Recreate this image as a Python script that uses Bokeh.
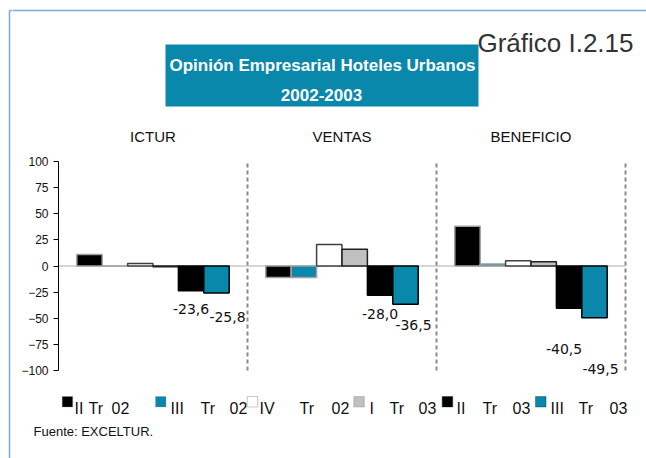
from bokeh.plotting import figure
from bokeh.layouts import row, column
from bokeh.models import Range1d, LabelSet, Label, BoxAnnotation, ColumnDataSource, FixedTicker
from bokeh.core.properties import value
from bokeh.embed import file_html
from bokeh.resources import INLINE

# ---------------- data ----------------
groups = ["ICTUR", "VENTAS", "BENEFICIO"]
series_names = ["II Tr 02", "III Tr 02", "IV Tr 02", "I Tr 03", "II Tr 03", "III Tr 03"]
ii_tr_02 = [11.0, -11.0, 38.0]
iii_tr_02 = [0.0, -11.0, 2.0]
iv_tr_02 = [2.5, 20.5, 5.0]
i_tr_03 = [-0.8, 16.0, 4.0]
ii_tr_03 = [-23.6, -28.0, -40.5]
iii_tr_03 = [-25.8, -36.5, -49.5]
y_ticks = [-100, -75, -50, -25, 0, 25, 50, 75, 100]
chart_title = ["Opinión Empresarial Hoteles Urbanos", "2002-2003"]
figure_id = "Gráfico I.2.15"
source_note = "Fuente: EXCELTUR."

series_values = [ii_tr_02, iii_tr_02, iv_tr_02, i_tr_03, ii_tr_03, iii_tr_03]

# ---------------- styles / layout ----------------
TEAL = "#0a88ab"
BORDER = "#78acd6"
fills = ["#000000", TEAL, "#ffffff", "#c0c0c0", "#000000", TEAL]
outlines = ["#a0a0a0", "#a0a0a0", "#404040", "#202020", "#000000", "#000000"]
FONT = "Liberation Sans"

PAGE_W, PAGE_H = 646, 458
STRIP = 12
CW = PAGE_W - STRIP
HEAD_H, FOOT_H = 150, 34
MAIN_H = PAGE_H - HEAD_H - FOOT_H
FL, FR, FT, FB = 58.0, 625.0, 161.0, 370.0   # bar-area edges in page pixels
PPX = (FR - FL) / 3.0
PPY = (FB - FT) / 200.0


def plain(fig):
    fig.grid.visible = False
    fig.outline_line_color = None
    fig.background_fill_color = "white"
    fig.border_fill_color = "white"
    return fig


def base_fig(**kw):
    return plain(figure(output_backend="svg", toolbar_location=None, frame_align=False, **kw))


# ---------------- left border strip ----------------
strip = base_fig(width=STRIP, height=PAGE_H, x_range=Range1d(0, STRIP), y_range=Range1d(PAGE_H, 0),
                 x_axis_type=None, y_axis_type=None, min_border=0)
strip.segment(x0=[9, 9], y0=[10, 10], x1=[9, STRIP], y1=[PAGE_H, 10], line_color=BORDER, line_width=1.5)

# ---------------- header ----------------
head = base_fig(width=CW, height=HEAD_H, x_range=Range1d(STRIP, PAGE_W), y_range=Range1d(HEAD_H, 0),
                x_axis_type=None, y_axis_type=None, min_border=0)
head.segment(x0=[STRIP], y0=[10], x1=[PAGE_W], y1=[10], line_color=BORDER, line_width=1.5)
head.quad(left=[165], right=[478], top=[44], bottom=[106], fill_color=TEAL, line_color=None)
head.add_layout(Label(x=322, y=65, text=chart_title[0], text_font=FONT,
                      text_font_size="17px", text_font_style="bold", text_color="white",
                      text_align="center", text_baseline="alphabetic"))
head.add_layout(Label(x=321, y=94, text=chart_title[1], text_font=FONT,
                      text_font_size="17px", text_font_style="bold", text_color="white",
                      text_align="center", text_baseline="alphabetic"))
head.add_layout(Label(x=633, y=42, text=figure_id, text_font=FONT,
                      text_font_size="26px", text_color="#333333",
                      text_align="right", text_baseline="alphabetic"))
for g, name in enumerate(groups):
    head.add_layout(Label(x=FL + (g + 0.5) * PPX, y=136, text=name, text_font=FONT,
                          text_font_size="15px", text_color="#111111",
                          text_align="center", text_baseline="alphabetic"))

# ---------------- main chart ----------------
y_top = 100 + (FT - HEAD_H) / PPY
y_bot = -100 - (HEAD_H + MAIN_H - FB) / PPY
x_end = 3 + (PAGE_W - FR) / PPX
p = base_fig(width=CW, height=MAIN_H, x_range=Range1d(0, x_end), y_range=Range1d(y_bot, y_top),
             x_axis_type=None, min_border_left=int(FL - STRIP), min_border_right=0,
             min_border_top=0, min_border_bottom=0)
ax = p.yaxis[0]
ax.bounds = (-100, 100)
ax.ticker = FixedTicker(ticks=y_ticks)
ax.axis_line_color = "black"
ax.major_tick_line_color = "black"
ax.major_tick_out = 5
ax.major_tick_in = 0
ax.minor_tick_line_color = None
ax.major_label_text_font = FONT
ax.major_label_text_font_size = "12px"
ax.major_label_text_color = "#111111"
ax.major_label_standoff = 5


def dx(px):
    return (px - FL) / PPX


def dy(py):
    return 100.0 - (py - FT) / PPY


# zero line and dashed separators
p.segment(x0=[0], y0=[0], x1=[3], y1=[0], line_color="#c8c8c8", line_width=1.5)
p.segment(x0=[1, 2, 3], y0=[-100] * 3, x1=[1, 2, 3], y1=[100.5] * 3,
          line_color="#8a8a8a", line_width=2, line_dash="4 3")

# bars
BW = 0.1344
for j, vals in enumerate(series_values):
    xs = [g + 0.5 + (j - 2.5) * BW for g in range(len(groups))]
    p.vbar(x=xs, top=vals, bottom=0, width=BW, fill_color=fills[j],
           line_color=outlines[j], line_width=1.5)

# data labels for the last two series
drops = {4: [-18.0, -17.7, -38.9], 5: [-23.1, -20.4, -48.6]}
xoffs = {4: [0, 0, -5], 5: [11, 8, 6]}
lx, ly, lt, lo = [], [], [], []
for j in (4, 5):
    for g, v in enumerate(series_values[j]):
        lx.append(g + 0.5 + (j - 2.5) * BW)
        ly.append(v + drops[j][g])
        lt.append(f"{v:.1f}".replace(".", ","))
        lo.append(xoffs[j][g])
src = ColumnDataSource(dict(x=lx, y=ly, text=lt, xoff=lo))
p.add_layout(LabelSet(x="x", y="y", text="text", x_offset="xoff", source=src,
                      text_font=value("DejaVu Sans"), text_font_size=value("14px"),
                      text_align="center", text_baseline="middle", text_color="#111111"))

# legend (manual, to follow the original's spacing)
legend_sq = [61.7, 155.0, 246.7, 353.3, 441.7, 535.0]
legend_words = [[74, 88, 111], [170, 200, 229], [259, 299, 331],
                [369, 389, 418], [456, 482, 512], [550, 578, 609]]
legend_lines = ["#909090", "#909090", "#505050", "#707070", "#000000", "#000000"]
for j, name in enumerate(series_names):
    sx = legend_sq[j]
    p.add_layout(BoxAnnotation(left=dx(sx), right=dx(sx + 10.5), top=dy(396), bottom=dy(406.5),
                               fill_color=fills[j], fill_alpha=1,
                               line_color=legend_lines[j], line_width=1.2))
    for word, wx in zip(name.split(" "), legend_words[j]):
        p.add_layout(Label(x=dx(wx), y=dy(407.5), text=word, text_font=FONT,
                           text_font_size="16px", text_color="#111111",
                           text_align="left", text_baseline="alphabetic"))

# ---------------- footer ----------------
foot = base_fig(width=CW, height=FOOT_H, x_range=Range1d(STRIP, PAGE_W),
                y_range=Range1d(PAGE_H, PAGE_H - FOOT_H),
                x_axis_type=None, y_axis_type=None, min_border=0)
foot.add_layout(Label(x=33, y=431, text=source_note, text_font=FONT,
                      text_font_size="13px", text_color="#111111",
                      text_align="left", text_baseline="alphabetic"))

layout = row(strip, column(head, p, foot, spacing=0), spacing=0)

with open("out.html", "w", encoding="utf-8") as f:
    f.write(file_html(layout, INLINE))
